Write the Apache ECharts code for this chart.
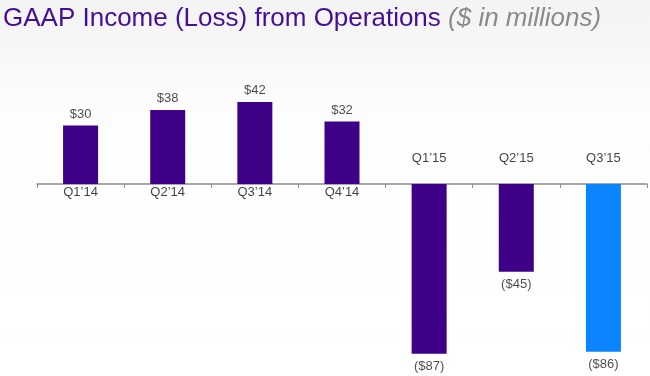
<!DOCTYPE html>
<html>
<head>
<meta charset="utf-8">
<script src="https://cdn.jsdelivr.net/npm/echarts@6/dist/echarts.min.js"></script>
<style>html,body{margin:0;padding:0;background:#fff}#c{width:650px;height:376px}</style>
</head>
<body>
<div id="c"></div>
<script>
const categories = ["Q1\u201914", "Q2\u201914", "Q3\u201914", "Q4\u201914", "Q1\u201915", "Q2\u201915", "Q3\u201915"];
const values = [30, 38, 42, 32, -87, -45, -86];
const barColors = ["#3f0088", "#3f0088", "#3f0088", "#3f0088", "#3f0088", "#3f0088", "#0a84ff"];
const titleMain = "GAAP Income (Loss) from Operations ";
const titleSub = "($ in millions)";

function fmt(v) { return v >= 0 ? "$" + v : "($" + Math.abs(v) + ")"; }

const chart = echarts.init(document.getElementById('c'), null, { renderer: 'canvas' });
chart.setOption({
  animation: false,
  backgroundColor: {
    type: 'linear', x: 0, y: 0, x2: 0, y2: 1,
    colorStops: [{ offset: 0, color: '#f3f3f3' }, { offset: 0.3, color: '#fdfdfd' }, { offset: 1, color: '#ffffff' }]
  },
  title: {
    text: '{a|' + titleMain + '}{b|' + titleSub + '}',
    left: 3, top: 6, padding: 0,
    textStyle: {
      fontWeight: 'normal',
      rich: {
        a: { fontFamily: 'Liberation Sans, Arial', fontSize: 26, fontWeight: 'normal', color: '#440e98' },
        b: { fontFamily: 'Liberation Sans, Arial', fontSize: 26, fontWeight: 'normal', color: '#8a8a8a', fontStyle: 'italic' }
      }
    }
  },
  grid: { left: 37, right: 3, top: 86.5, height: 273 },
  xAxis: {
    type: 'category', data: categories,
    axisLine: { onZero: true, lineStyle: { color: '#8c8c8c', width: 1.5 } },
    axisTick: { show: true, length: 4, lineStyle: { color: '#8c8c8c' } },
    axisLabel: { show: false }
  },
  yAxis: { type: 'value', min: -90, max: 50, show: false, splitLine: { show: false } },
  series: [
    {
      type: 'bar', barWidth: 35,
      data: values.map((v, i) => ({ value: v, itemStyle: { color: barColors[i] } })),
      label: { show: false }
    },
    {
      type: 'scatter', symbolSize: 0, silent: true,
      data: values.map((v, i) => ({
        value: [i, v],
        label: { show: true, position: v >= 0 ? 'top' : 'bottom', distance: v >= 0 ? 5 : 6, formatter: fmt(v) }
      })),
      label: { fontFamily: 'Liberation Sans, Arial', fontSize: 13, color: '#1e1e1e' }
    },
    {
      type: 'scatter', symbolSize: 0, silent: true,
      data: values.map((v, i) => ({
        value: [i, 0],
        label: { show: true, position: v >= 0 ? 'bottom' : 'top', distance: v >= 0 ? 2 : 19, formatter: categories[i] }
      })),
      label: { fontFamily: 'Liberation Sans, Arial', fontSize: 13, color: '#111111' }
    }
  ]
});
</script>
</body>
</html>
